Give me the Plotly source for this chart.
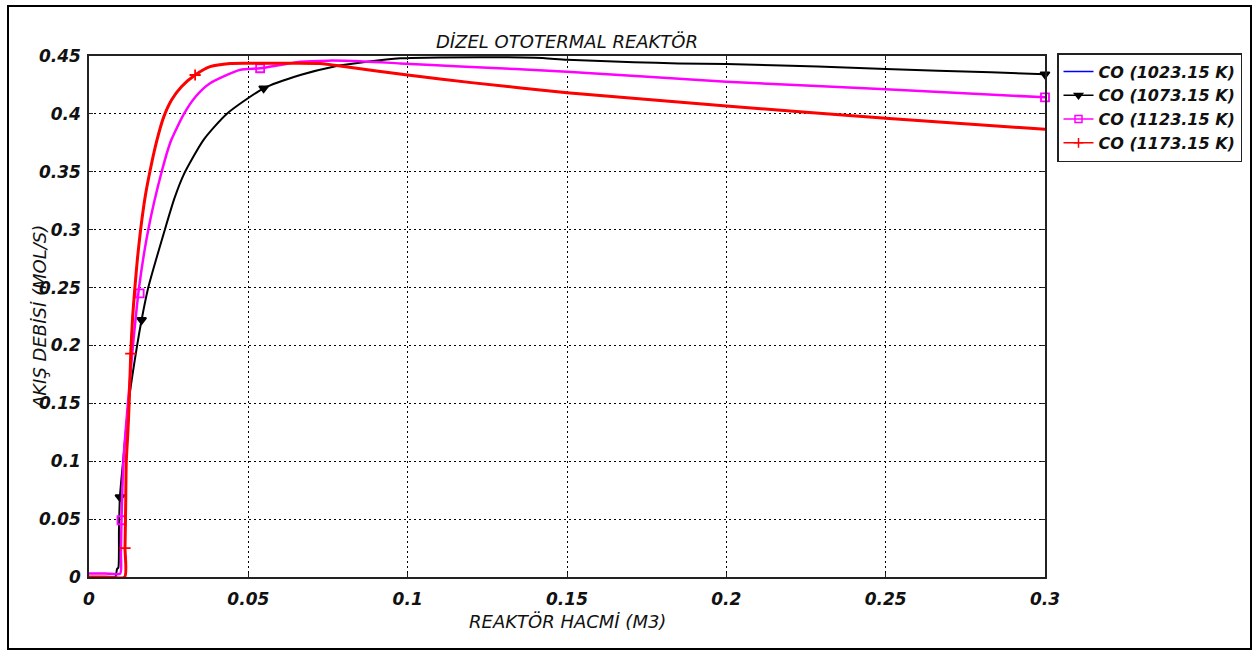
import plotly.graph_objects as go

# ---------------- data ----------------
x_1173 = [0, 0.005, 0.0112, 0.0113, 0.0115, 0.0117, 0.0122, 0.0126, 0.0131, 0.0137, 0.0144,
          0.0152, 0.0162, 0.0176, 0.0191, 0.0212, 0.0234, 0.0259, 0.029, 0.0333, 0.038,
          0.0443, 0.05, 0.06, 0.0725, 0.08, 0.1, 0.12, 0.15, 0.2, 0.25, 0.3]
y_1173 = [0, 0, 0, 0.025, 0.06, 0.1, 0.125, 0.15, 0.193, 0.225, 0.25,
          0.275, 0.3, 0.328, 0.35, 0.376, 0.397, 0.412, 0.4235, 0.4336, 0.4408,
          0.4436, 0.4438, 0.4438, 0.4436, 0.441, 0.4335, 0.427, 0.4183, 0.4068, 0.3962, 0.3867]
mx_1173 = [0.0113, 0.0131, 0.0333]
my_1173 = [0.025, 0.193, 0.4336]

# 1023.15 K coincides with 1173.15 K (hidden below the red curve)
x_1023 = list(x_1173)
y_1023 = list(y_1173)

x_1123 = [0, 0.005, 0.0098, 0.0100, 0.0102, 0.0108, 0.0122, 0.0138, 0.0157, 0.0186, 0.0228,
          0.0256, 0.0298, 0.0335, 0.038, 0.0474, 0.0537, 0.0663, 0.075, 0.085, 0.0977, 0.1166,
          0.15, 0.2, 0.25, 0.3]
y_1123 = [0.003, 0.003, 0.003, 0.02, 0.049, 0.1, 0.15, 0.2, 0.25, 0.3, 0.35,
          0.376, 0.4, 0.415, 0.4264, 0.438, 0.4394, 0.445, 0.446, 0.4455, 0.4436, 0.441,
          0.4364, 0.4278, 0.4212, 0.4143]
mx_1123 = [0.0102, 0.0159, 0.0537, 0.3]
my_1123 = [0.049, 0.245, 0.4394, 0.4143]

x_1073 = [0, 0.0082, 0.0088, 0.0092, 0.0094, 0.0097, 0.0107, 0.0124, 0.0151, 0.0165, 0.0186,
          0.0238, 0.0268, 0.0298, 0.0359, 0.0432, 0.0548, 0.0663, 0.0767, 0.0872, 0.0977,
          0.11, 0.14, 0.15, 0.171, 0.185, 0.2, 0.2287, 0.25, 0.283, 0.3]
y_1073 = [0, 0, 0.007, 0.008, 0.04, 0.069, 0.1, 0.15, 0.2, 0.222, 0.25,
          0.3, 0.327, 0.348, 0.3774, 0.4, 0.4221, 0.4336, 0.4408, 0.445, 0.448,
          0.4488, 0.4484, 0.4468, 0.4447, 0.4435, 0.443, 0.441, 0.4388, 0.4359, 0.4342]
mx_1073 = [0.0097, 0.0165, 0.0548, 0.3]
my_1073 = [0.069, 0.222, 0.4221, 0.4342]

labels = ["CO (1023.15 K)", "CO (1073.15 K)", "CO (1123.15 K)", "CO (1173.15 K)"]
x_ticks = [0, 0.05, 0.1, 0.15, 0.2, 0.25, 0.3]
y_ticks = [0, 0.05, 0.1, 0.15, 0.2, 0.25, 0.3, 0.35, 0.4, 0.45]

# ---------------- figure ----------------
FONT = "DejaVu Sans"
W, H = 1259, 655
L, R, T, B = 89, 214, 56, 78
PW, PH = W - L - R, H - T - B

def px_to_paper_x(px):
    return (px - L) / PW

def px_to_paper_y(py):
    return (H - B - py) / PH

fig = go.Figure()

styles = [
    dict(color="#0000ff", width=1.5, symbol=None, x=x_1023, y=y_1023, mx=[], my=[]),
    dict(color="#000000", width=2, symbol="triangle-down", x=x_1073, y=y_1073, mx=mx_1073, my=my_1073),
    dict(color="#ff00ff", width=2.5, symbol="square-open", x=x_1123, y=y_1123, mx=mx_1123, my=my_1123),
    dict(color="#ff0000", width=3, symbol="cross-thin", x=x_1173, y=y_1173, mx=mx_1173, my=my_1173),
]

for lab, s in zip(labels, styles):
    fig.add_trace(go.Scatter(x=s["x"], y=s["y"], mode="lines",
                             line=dict(color=s["color"], width=s["width"],
                                       shape="spline", smoothing=0.6),
                             showlegend=False, hoverinfo="skip"))
    if s["mx"]:
        fig.add_trace(go.Scatter(x=s["mx"], y=s["my"], mode="markers", cliponaxis=False,
                                 marker=dict(symbol=s["symbol"], size=8, color=s["color"],
                                             line=dict(color=s["color"], width=1.8)),
                                 showlegend=False, hoverinfo="skip"))
    # legend entry
    if s["symbol"]:
        fig.add_trace(go.Scatter(x=[None], y=[None], mode="lines+markers", name=lab,
                                 line=dict(color=s["color"], width=1.5),
                                 marker=dict(symbol=s["symbol"], size=7, color=s["color"],
                                             line=dict(color=s["color"], width=1.5))))
    else:
        fig.add_trace(go.Scatter(x=[None], y=[None], mode="lines", name=lab,
                                 line=dict(color=s["color"], width=1.5)))

axis_common = dict(
    showline=True, linecolor="#222222", linewidth=1.5, mirror="ticks",
    ticks="inside", ticklen=4, tickcolor="#222222",
    showgrid=True, gridcolor="#000000", gridwidth=1.3, griddash="1.5px,3.5px",
    zeroline=False,
    tickfont=dict(family=FONT, size=17, color="#111111", weight="bold", style="italic"),
)

fig.update_xaxes(range=[0, 0.3], tickvals=x_ticks, ticktext=[f"{v:g}" for v in x_ticks],
                 ticklabelstandoff=6, **axis_common)
fig.update_yaxes(range=[0, 0.45], tickvals=y_ticks, ticktext=[f"{v:g}" for v in y_ticks],
                 ticklabelstandoff=3, **axis_common)

fig.update_layout(
    width=W, height=H,
    margin=dict(l=L, r=R, t=T, b=B),
    paper_bgcolor="white", plot_bgcolor="white",
    title=dict(text="DİZEL OTOTERMAL REAKTÖR", x=0.5, xref="paper", xanchor="center",
               y=1 - 42 / H, yref="container", yanchor="middle",
               font=dict(family=FONT, size=18, color="#111111", style="italic")),
    legend=dict(x=px_to_paper_x(1057), y=px_to_paper_y(53), xanchor="left", yanchor="top",
                bordercolor="#222222", borderwidth=1.5, bgcolor="white",
                font=dict(family=FONT, size=16, color="#111111", weight="bold", style="italic"),
                tracegroupgap=0),
    annotations=[
        dict(text="REAKTÖR HACMİ (M3)", xref="paper", yref="paper",
             x=0.5, y=px_to_paper_y(621), xanchor="center", yanchor="middle", showarrow=False,
             font=dict(family=FONT, size=18, color="#111111", style="italic")),
        dict(text="AKIŞ DEBİSİ (MOL/S)", xref="paper", yref="paper", textangle=-90,
             x=px_to_paper_x(39), y=px_to_paper_y(317), xanchor="center", yanchor="middle",
             showarrow=False,
             font=dict(family=FONT, size=18, color="#111111", style="italic")),
    ],
    shapes=[
        dict(type="rect", xref="paper", yref="paper",
             x0=px_to_paper_x(8), x1=px_to_paper_x(1251),
             y0=px_to_paper_y(649), y1=px_to_paper_y(6),
             line=dict(color="#000000", width=2), fillcolor="rgba(0,0,0,0)", layer="above"),
    ],
)

fig.write_html("out.html")
